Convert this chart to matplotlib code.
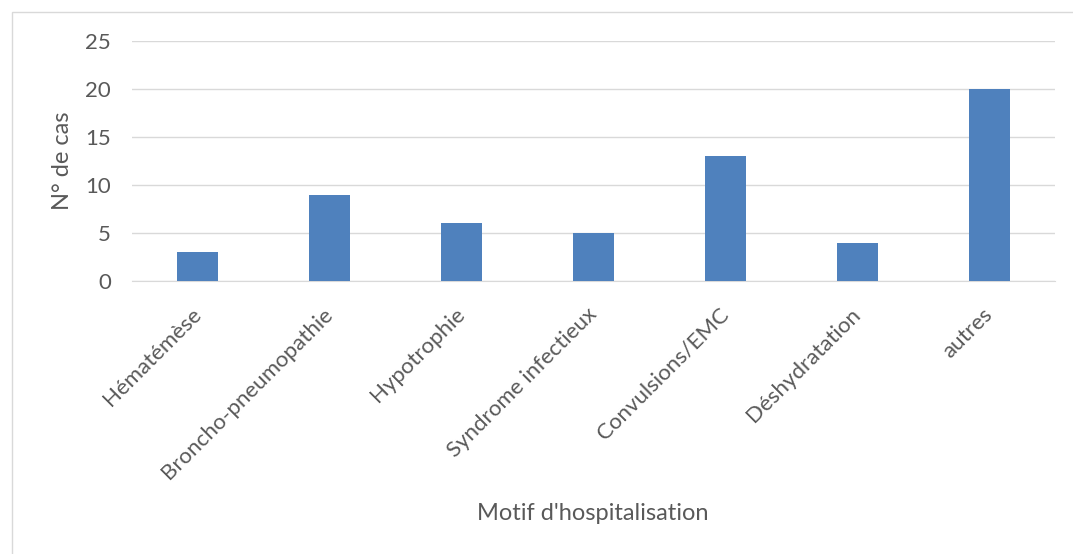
import matplotlib
matplotlib.use("Agg")
import matplotlib.pyplot as plt
from matplotlib.patches import Rectangle

categories = ["Hématémèse", "Broncho-pneumopathie", "Hypotrophie", "Syndrome infectieux",
              "Convulsions/EMC", "Déshydratation", "autres"]
values = [3, 9, 6, 5, 13, 4, 20]
yticks = [0, 5, 10, 15, 20, 25]

plt.rcParams['font.family'] = ['Lato', 'DejaVu Sans']
txt = '#595959'
W, H = 1073, 554
fig = plt.figure(figsize=(W/100, H/100), dpi=100)
ax = fig.add_axes([132/W, 1-281/H, (1055-132)/W, (281-41)/H])

x = list(range(len(categories)))
ax.bar(x, values, width=0.31, color='#4F81BD', zorder=3)
ax.set_xlim(-0.5, len(categories)-0.5)
ax.set_ylim(0, 25)
ax.set_yticks(yticks)
ax.set_yticklabels([str(v) for v in yticks], fontsize=16, color=txt)
ax.set_xticks(x)
ax.set_xticklabels(categories, rotation=45, ha='right', va='center', rotation_mode='anchor',
                   fontsize=16, color=txt)
ax.tick_params(axis='both', length=0)
ax.tick_params(axis='y', pad=15)
ax.tick_params(axis='x', pad=22)
ax.grid(axis='y', color='#D9D9D9', linewidth=1, zorder=0)
for s in ['top', 'right', 'left']:
    ax.spines[s].set_visible(False)
ax.spines['bottom'].set_color('#D9D9D9')
ax.set_ylabel("N° de cas", fontsize=17, color=txt, labelpad=9)
fig.text(593/W, 1-513/H, "Motif d'hospitalisation", ha='center', va='center',
         fontsize=17, color=txt)

fig.patches.append(Rectangle((12/W, -0.1), 1.2, 1-12/H+0.1, transform=fig.transFigure,
                             fill=False, edgecolor='#D9D9D9', linewidth=1))
fig.savefig('out.png', dpi=100)
